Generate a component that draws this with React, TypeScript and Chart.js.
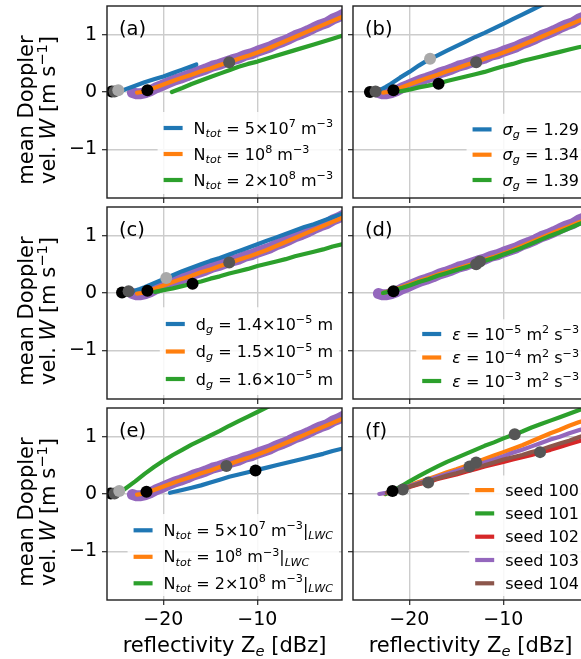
import React, { useEffect, useRef } from "react";
import { Chart, registerables } from "chart.js";

Chart.register(...registerables);

const FONT = '"DejaVu Sans", sans-serif';

const BLUE = "#1f77b4";
const ORANGE = "#ff7f0e";
const GREEN = "#2ca02c";
const RED = "#d62728";
const PURPLE = "#9467bd";
const BROWN = "#8c564b";
const MK_BLACK = "#000000";
const MK_DARK = "#565656";
const MK_LIGHT = "#a9a9a9";

const X_TICKS = [-20, -10];
const Y_TICKS = [-1, 0, 1];
const X_MIN = -26;
const X_MAX = -1;
const Y_MIN = -1.85;
const Y_MAX = 1.5;

type P = [number, number];

// reference run (orange on a thick purple band)
const REF_ORANGE: P[] = [[-22.8, -0.01], [-22.3, 0.0], [-21.7, 0.03], [-21, 0.07], [-20, 0.13], [-19, 0.19], [-18, 0.25], [-17, 0.3], [-16, 0.36], [-15, 0.41], [-14, 0.47], [-13, 0.52], [-12, 0.58], [-11, 0.63], [-10, 0.69], [-9, 0.75], [-8, 0.82], [-7, 0.89], [-6, 0.96], [-5, 1.03], [-4, 1.1], [-3, 1.17], [-2, 1.24], [-1, 1.31]];
const REF_PURPLE: P[] = [[-23.3, -0.01], [-22.9, -0.03], [-22.4, -0.03], [-21.9, -0.01], [-21.4, 0.02], [-20.8, 0.07], [-20.2, 0.11], [-19.5, 0.16], [-18.8, 0.21], [-18.2, 0.24], [-17.5, 0.28], [-16.8, 0.33], [-16.2, 0.36], [-15.5, 0.4], [-14.8, 0.45], [-14.1, 0.48], [-13.4, 0.52], [-12.7, 0.56], [-12.0, 0.59], [-11.3, 0.64], [-10.6, 0.67], [-10.0, 0.71], [-9.3, 0.75], [-8.6, 0.79], [-8.0, 0.84], [-7.3, 0.88], [-6.6, 0.93], [-6.0, 0.98], [-5.3, 1.02], [-4.6, 1.07], [-4.0, 1.12], [-3.3, 1.17], [-2.6, 1.21], [-2.0, 1.27], [-1.4, 1.31], [-0.8, 1.36]];

// (a)
const A_BLUE: P[] = [[-24.6, 0.01], [-24, 0.05], [-23, 0.11], [-22, 0.17], [-21, 0.22], [-20, 0.27], [-19, 0.33], [-18, 0.39], [-17, 0.45], [-16.5, 0.48]];
const A_GREEN: P[] = [[-19.1, 0.0], [-18, 0.07], [-17, 0.14], [-16, 0.2], [-15, 0.26], [-14, 0.32], [-13, 0.38], [-12, 0.44], [-11, 0.49], [-10, 0.53], [-8, 0.63], [-6, 0.73], [-4, 0.83], [-2, 0.93], [-1, 0.98]];
const A_MARKS: P[] = [[-25.5, 0.01], [-25.2, 0.01], [-24.8, 0.03], [-21.7, 0.03], [-13.0, 0.52]];
const A_MARK_COLORS = [MK_BLACK, MK_DARK, MK_LIGHT, MK_BLACK, MK_DARK];

// (b)
const B_BLUE: P[] = [[-23.3, 0.02], [-22.5, 0.09], [-22, 0.14], [-21, 0.25], [-20, 0.35], [-19, 0.46], [-18, 0.56], [-17, 0.64], [-16, 0.72], [-15, 0.8], [-14, 0.88], [-13, 0.96], [-12, 1.03], [-11, 1.11], [-10, 1.19], [-9, 1.27], [-8, 1.35], [-7, 1.43], [-6, 1.51], [-5, 1.59]];
const B_GREEN: P[] = [[-21, 0.01], [-20, 0.04], [-19, 0.08], [-18, 0.11], [-17, 0.145], [-16, 0.19], [-15, 0.23], [-14, 0.27], [-13, 0.31], [-12, 0.35], [-11, 0.4], [-10, 0.45], [-9, 0.49], [-8, 0.54], [-7, 0.58], [-6, 0.62], [-5, 0.66], [-4, 0.7], [-3, 0.74], [-2, 0.78], [-1, 0.81]];
const B_MARKS: P[] = [[-24.2, 0.0], [-23.6, 0.01], [-21.7, 0.03], [-17.8, 0.58], [-16.9, 0.145], [-12.9, 0.52]];
const B_MARK_COLORS = [MK_BLACK, MK_DARK, MK_BLACK, MK_LIGHT, MK_BLACK, MK_DARK];

// (c)
const C_BLUE: P[] = [[-23.4, 0.02], [-22.5, 0.07], [-22, 0.1], [-21, 0.17], [-20, 0.24], [-19, 0.31], [-18, 0.38], [-17, 0.44], [-16, 0.5], [-15, 0.56], [-14, 0.61], [-13, 0.67], [-12, 0.73], [-11, 0.79], [-10, 0.85], [-9, 0.91], [-8, 0.97], [-7, 1.03], [-6, 1.09], [-5, 1.15], [-4, 1.2], [-3, 1.26], [-2, 1.32], [-1, 1.38]];
const C_GREEN: P[] = [[-20.9, 0.02], [-20, 0.05], [-19, 0.08], [-18, 0.12], [-17, 0.16], [-16, 0.2], [-15, 0.25], [-14, 0.29], [-13, 0.34], [-12, 0.38], [-11, 0.42], [-10, 0.47], [-9, 0.51], [-8, 0.55], [-7, 0.59], [-6, 0.64], [-5, 0.68], [-4, 0.72], [-3, 0.76], [-2, 0.81], [-1, 0.85]];
const C_MARKS: P[] = [[-24.4, 0.01], [-23.7, 0.03], [-19.7, 0.26], [-21.7, 0.04], [-16.9, 0.16], [-13.0, 0.53]];
const C_MARK_COLORS = [MK_BLACK, MK_DARK, MK_LIGHT, MK_BLACK, MK_BLACK, MK_DARK];

// (d)
const D_BLUE: P[] = [[-22.8, 0.0], [-22, 0.035], [-21, 0.085], [-20, 0.14], [-19, 0.2], [-18, 0.25], [-17, 0.31], [-16, 0.36], [-15, 0.41], [-14, 0.46], [-13, 0.51], [-12, 0.57], [-11, 0.62], [-10, 0.68], [-9, 0.74], [-8, 0.8], [-7, 0.87], [-6, 0.94], [-5, 1.01], [-4, 1.08], [-3, 1.14], [-2, 1.21], [-1, 1.27]];
const D_ORANGE: P[] = [[-22.8, 0.0], [-22, 0.04], [-21, 0.09], [-20, 0.15], [-19, 0.21], [-18, 0.26], [-17, 0.32], [-16, 0.37], [-15, 0.42], [-14, 0.47], [-13, 0.52], [-12, 0.58], [-11, 0.63], [-10, 0.69], [-9, 0.75], [-8, 0.82], [-7, 0.89], [-6, 0.96], [-5, 1.03], [-4, 1.1], [-3, 1.16], [-2, 1.23], [-1, 1.29]];
const D_GREEN: P[] = [[-22.8, 0.0], [-22, 0.03], [-21, 0.08], [-20, 0.13], [-19, 0.19], [-18, 0.24], [-17, 0.3], [-16, 0.35], [-15, 0.4], [-14, 0.45], [-13, 0.5], [-12, 0.56], [-11, 0.61], [-10, 0.67], [-9, 0.73], [-8, 0.79], [-7, 0.86], [-6, 0.93], [-5, 1.0], [-4, 1.06], [-3, 1.13], [-2, 1.2], [-1, 1.26]];
const D_MARKS: P[] = [[-21.7, 0.03], [-12.9, 0.5], [-12.5, 0.55]];
const D_MARK_COLORS = [MK_BLACK, MK_DARK, MK_DARK];

// (e)
const E_BLUE: P[] = [[-19.3, 0.02], [-18, 0.07], [-17, 0.11], [-16, 0.15], [-15, 0.2], [-14, 0.25], [-13, 0.3], [-12, 0.34], [-11, 0.38], [-10, 0.42], [-9, 0.46], [-8, 0.5], [-7, 0.54], [-6, 0.58], [-5, 0.62], [-4, 0.66], [-3, 0.7], [-2, 0.75], [-1, 0.79]];
const E_GREEN: P[] = [[-24.6, 0.03], [-24, 0.1], [-23, 0.22], [-22, 0.35], [-21, 0.47], [-20, 0.58], [-19, 0.68], [-18, 0.77], [-17, 0.86], [-16, 0.94], [-15, 1.02], [-14, 1.1], [-13, 1.19], [-12, 1.27], [-11, 1.35], [-10, 1.43], [-9, 1.51], [-8, 1.59]];
const E_MARKS: P[] = [[-25.6, 0.01], [-25.2, 0.01], [-24.7, 0.05], [-21.8, 0.04], [-13.3, 0.49], [-10.2, 0.41]];
const E_MARK_COLORS = [MK_BLACK, MK_DARK, MK_LIGHT, MK_BLACK, MK_DARK, MK_BLACK];

// (f) seeds
const F_SEED100: P[] = [[-22.6, 0.0], [-22, 0.04], [-21, 0.09], [-20, 0.15], [-19, 0.21], [-18, 0.26], [-17, 0.32], [-16, 0.38], [-15, 0.43], [-14, 0.49], [-13, 0.55], [-12, 0.61], [-11, 0.67], [-10, 0.73], [-9, 0.79], [-8, 0.85], [-7, 0.92], [-6, 0.99], [-5, 1.06], [-4, 1.12], [-3, 1.19], [-2, 1.25], [-1, 1.3]];
const F_SEED101: P[] = [[-22.5, 0.0], [-22, 0.04], [-21, 0.12], [-20, 0.22], [-19, 0.31], [-18, 0.4], [-17, 0.48], [-16, 0.56], [-15, 0.63], [-14, 0.7], [-13, 0.77], [-12, 0.84], [-11, 0.9], [-10, 0.97], [-9, 1.03], [-8, 1.09], [-7, 1.16], [-6, 1.22], [-5, 1.28], [-4, 1.34], [-3, 1.4], [-2, 1.46], [-1, 1.52]];
const F_SEED102: P[] = [[-22.2, 0.02], [-21, 0.07], [-20, 0.12], [-19, 0.17], [-18, 0.21], [-17, 0.26], [-16, 0.3], [-15, 0.34], [-14, 0.39], [-13, 0.43], [-12, 0.48], [-11, 0.52], [-10, 0.56], [-9, 0.6], [-8, 0.64], [-7, 0.68], [-6, 0.73], [-5, 0.77], [-4, 0.82], [-3, 0.87], [-2, 0.92], [-1, 0.96]];
const F_SEED103: P[] = [[-23.2, 0.0], [-22.5, 0.02], [-21, 0.08], [-20, 0.14], [-19, 0.19], [-18, 0.24], [-17, 0.3], [-16, 0.35], [-15, 0.4], [-14, 0.45], [-13, 0.5], [-12, 0.55], [-11, 0.6], [-10, 0.66], [-9, 0.72], [-8, 0.77], [-7, 0.83], [-6, 0.89], [-5, 0.95], [-4, 1.0], [-3, 1.06], [-2, 1.11], [-1, 1.16]];
const F_SEED104: P[] = [[-22.4, 0.02], [-21, 0.08], [-20, 0.13], [-19, 0.18], [-18, 0.22], [-17, 0.27], [-16, 0.32], [-15, 0.36], [-14, 0.41], [-13, 0.46], [-12, 0.5], [-11, 0.55], [-10, 0.6], [-9, 0.64], [-8, 0.68], [-7, 0.73], [-6, 0.77], [-5, 0.83], [-4, 0.88], [-3, 0.93], [-2, 0.99], [-1, 1.04]];
const F_MARKS: P[] = [[-20.7, 0.08], [-18.0, 0.2], [-13.6, 0.48], [-12.9, 0.55], [-8.8, 1.04], [-6.1, 0.73], [-21.8, 0.05]];
const F_MARK_COLORS = [MK_DARK, MK_DARK, MK_DARK, MK_DARK, MK_DARK, MK_DARK, MK_BLACK];

// ---------- text helpers ----------
type Seg = { t: string; s?: "sub" | "sup"; i?: boolean };

const NTOT: Seg[] = [{ t: "N" }, { t: "tot", s: "sub", i: true }, { t: " = " }];
const LWC: Seg[] = [{ t: "|" }, { t: "LWC", s: "sub", i: true }];
const M3: Seg[] = [{ t: " m" }, { t: "\u22123", s: "sup" }];

const LEG_A_TEXT: Seg[][] = [
  [...NTOT, { t: "5\u00d710" }, { t: "7", s: "sup" }, ...M3],
  [...NTOT, { t: "10" }, { t: "8", s: "sup" }, ...M3],
  [...NTOT, { t: "2\u00d710" }, { t: "8", s: "sup" }, ...M3],
];
const LEG_B_TEXT: Seg[][] = ["1.29", "1.34", "1.39"].map((v) => [
  { t: "\u03c3", i: true }, { t: "g", s: "sub", i: true }, { t: " = " + v },
]);
const LEG_C_TEXT: Seg[][] = ["1.4", "1.5", "1.6"].map((v) => [
  { t: "d" }, { t: "g", s: "sub", i: true }, { t: " = " + v + "\u00d710" }, { t: "\u22125", s: "sup" }, { t: " m" },
]);
const LEG_D_TEXT: Seg[][] = ["\u22125", "\u22124", "\u22123"].map((v) => [
  { t: "\u03b5", i: true }, { t: " = 10" }, { t: v, s: "sup" }, { t: " m" }, { t: "2", s: "sup" }, { t: " s" }, { t: "\u22123", s: "sup" },
]);
const LEG_E_TEXT: Seg[][] = LEG_A_TEXT.map((segs) => [...segs, ...LWC]);
const LEG_F_TEXT: Seg[][] = ["seed 100", "seed 101", "seed 102", "seed 103", "seed 104"].map((v) => [{ t: v }]);

const Y_LABEL_1: Seg[] = [{ t: "mean Doppler" }];
const Y_LABEL_2: Seg[] = [{ t: "vel. " }, { t: "W", i: true }, { t: " [m s" }, { t: "\u22121", s: "sup" }, { t: "]" }];
const X_LABEL: Seg[] = [{ t: "reflectivity Z" }, { t: "e", s: "sub", i: true }, { t: " [dBz]" }];

function setFont(ctx: CanvasRenderingContext2D, g: Seg, size: number) {
  const fs = g.s ? size * 0.7 : size;
  ctx.font = `${g.i ? "italic " : ""}${fs}px ${FONT}`;
}
function richWidth(ctx: CanvasRenderingContext2D, segs: Seg[], size: number) {
  let w = 0;
  for (const g of segs) {
    setFont(ctx, g, size);
    w += ctx.measureText(g.t).width;
  }
  return w;
}
function drawRich(ctx: CanvasRenderingContext2D, segs: Seg[], x: number, y: number, size: number) {
  let cx = x;
  ctx.textAlign = "left";
  ctx.textBaseline = "alphabetic";
  for (const g of segs) {
    setFont(ctx, g, size);
    const dy = g.s === "sub" ? size * 0.2 : g.s === "sup" ? -size * 0.4 : 0;
    ctx.fillText(g.t, cx, y + dy);
    cx += ctx.measureText(g.t).width;
  }
}

// ---------- panels ----------
type Series = { pts: P[]; color: string; width: number };
type PanelSpec = {
  label: string;
  col: number;
  row: number;
  series: Series[];
  marks: P[];
  markColors: string[];
  legendColors: string[];
  legendText: Seg[][];
  legendGap: number;
  legendLast: number;
};

const W_LINE = 4.2;
const W_BAND = 11;

const PANELS: PanelSpec[] = [
  {
    label: "(a)", col: 0, row: 0,
    series: [
      { pts: REF_PURPLE, color: PURPLE, width: W_BAND },
      { pts: A_BLUE, color: BLUE, width: W_LINE },
      { pts: REF_ORANGE, color: ORANGE, width: W_LINE },
      { pts: A_GREEN, color: GREEN, width: W_LINE },
    ],
    marks: A_MARKS, markColors: A_MARK_COLORS,
    legendColors: [BLUE, ORANGE, GREEN], legendText: LEG_A_TEXT, legendGap: 26, legendLast: 18,
  },
  {
    label: "(b)", col: 1, row: 0,
    series: [
      { pts: REF_PURPLE, color: PURPLE, width: W_BAND },
      { pts: B_BLUE, color: BLUE, width: W_LINE },
      { pts: REF_ORANGE, color: ORANGE, width: W_LINE },
      { pts: B_GREEN, color: GREEN, width: W_LINE },
    ],
    marks: B_MARKS, markColors: B_MARK_COLORS,
    legendColors: [BLUE, ORANGE, GREEN], legendText: LEG_B_TEXT, legendGap: 25.3, legendLast: 18,
  },
  {
    label: "(c)", col: 0, row: 1,
    series: [
      { pts: REF_PURPLE, color: PURPLE, width: W_BAND },
      { pts: C_BLUE, color: BLUE, width: W_LINE },
      { pts: REF_ORANGE, color: ORANGE, width: W_LINE },
      { pts: C_GREEN, color: GREEN, width: W_LINE },
    ],
    marks: C_MARKS, markColors: C_MARK_COLORS,
    legendColors: [BLUE, ORANGE, GREEN], legendText: LEG_C_TEXT, legendGap: 27.5, legendLast: 20,
  },
  {
    label: "(d)", col: 1, row: 1,
    series: [
      { pts: REF_PURPLE, color: PURPLE, width: W_BAND },
      { pts: D_BLUE, color: BLUE, width: W_LINE },
      { pts: D_ORANGE, color: ORANGE, width: W_LINE },
      { pts: D_GREEN, color: GREEN, width: W_LINE },
    ],
    marks: D_MARKS, markColors: D_MARK_COLORS,
    legendColors: [BLUE, ORANGE, GREEN], legendText: LEG_D_TEXT, legendGap: 23.5, legendLast: 18,
  },
  {
    label: "(e)", col: 0, row: 2,
    series: [
      { pts: REF_PURPLE, color: PURPLE, width: W_BAND },
      { pts: E_BLUE, color: BLUE, width: W_LINE },
      { pts: REF_ORANGE, color: ORANGE, width: W_LINE },
      { pts: E_GREEN, color: GREEN, width: W_LINE },
    ],
    marks: E_MARKS, markColors: E_MARK_COLORS,
    legendColors: [BLUE, ORANGE, GREEN], legendText: LEG_E_TEXT, legendGap: 26.5, legendLast: 16.7,
  },
  {
    label: "(f)", col: 1, row: 2,
    series: [
      { pts: F_SEED100, color: ORANGE, width: W_LINE },
      { pts: F_SEED101, color: GREEN, width: W_LINE },
      { pts: F_SEED102, color: RED, width: W_LINE },
      { pts: F_SEED103, color: PURPLE, width: W_LINE },
      { pts: F_SEED104, color: BROWN, width: W_LINE },
    ],
    marks: F_MARKS, markColors: F_MARK_COLORS,
    legendColors: [ORANGE, GREEN, RED, PURPLE, BROWN], legendText: LEG_F_TEXT, legendGap: 23.3, legendLast: 16.7,
  },
];

// figure geometry (page pixels)
const COLS = [
  { cx: 0, cw: 346, left: 107, right: 342 },
  { cx: 346, cw: 246, left: 353, right: 588 },
];
const ROWS = [
  { cy: 0, ch: 203, top: 6, bottom: 198 },
  { cy: 203, ch: 201, top: 207, bottom: 399 },
  { cy: 404, ch: 255, top: 408, bottom: 600 },
];

const fmtTick = (v: number | string) => {
  const n = Number(v);
  return n < 0 ? "\u2212" + Math.abs(n) : String(n);
};

function makeDecor(spec: PanelSpec) {
  return {
    id: "decor" + spec.label,
    afterDatasetsDraw(chart: any) {
      const ctx: CanvasRenderingContext2D = chart.ctx;
      const a = chart.chartArea;
      ctx.save();
      // frame
      ctx.strokeStyle = "#1e1e1e";
      ctx.lineWidth = 1.4;
      ctx.strokeRect(a.left, a.top, a.right - a.left, a.bottom - a.top);

      // legend
      const LFS = 16;
      const widths = spec.legendText.map((s) => richWidth(ctx, s, LFS));
      const maxW = Math.max(...widths);
      const textLeft = a.right - 9 - maxW;
      const swL = textLeft - 30;
      const swR = textLeft - 11;
      const n = spec.legendText.length;
      const lastY = a.bottom - spec.legendLast;
      const firstY = lastY - (n - 1) * spec.legendGap;
      const boxTop = firstY - spec.legendGap / 2 - 3;
      ctx.fillStyle = "rgba(255,255,255,0.85)";
      ctx.fillRect(swL - 6, boxTop, a.right - 3 - (swL - 6), a.bottom - 4 - boxTop);
      spec.legendText.forEach((segs, k) => {
        const y = firstY + k * spec.legendGap;
        ctx.strokeStyle = spec.legendColors[k];
        ctx.lineWidth = 4.2;
        ctx.lineCap = "butt";
        ctx.beginPath();
        ctx.moveTo(swL, y);
        ctx.lineTo(swR, y);
        ctx.stroke();
        ctx.fillStyle = "#000";
        drawRich(ctx, segs, textLeft, y + 5.5, LFS);
      });

      // panel label
      ctx.fillStyle = "#000";
      ctx.font = `19.5px ${FONT}`;
      ctx.textAlign = "left";
      ctx.textBaseline = "alphabetic";
      ctx.fillText(spec.label, a.left + 12, a.top + 29);

      // y label (left column)
      const AFS = 21;
      if (spec.col === 0) {
        const cyMid = (a.top + a.bottom) / 2 + 8;
        const lines: [Seg[], number][] = [[Y_LABEL_1, 33], [Y_LABEL_2, 55]];
        for (const [segs, bx] of lines) {
          const w = richWidth(ctx, segs, AFS);
          ctx.save();
          ctx.translate(bx, cyMid);
          ctx.rotate(-Math.PI / 2);
          drawRich(ctx, segs, -w / 2, 0, AFS);
          ctx.restore();
        }
      }
      // x label (bottom row)
      if (spec.row === 2) {
        const w = richWidth(ctx, X_LABEL, AFS);
        drawRich(ctx, X_LABEL, (a.left + a.right) / 2 - w / 2, 652 - 404, AFS);
      }
      ctx.restore();
    },
  };
}

function buildConfig(spec: PanelSpec): any {
  const col = COLS[spec.col];
  const row = ROWS[spec.row];
  const yAxisW = col.left - col.cx;
  const xAxisH = row.cy + row.ch - row.bottom;
  const zeroPad = (s: any) => {
    s.paddingTop = 0;
    s.paddingBottom = 0;
    s.paddingLeft = 0;
    s.paddingRight = 0;
  };
  const n = spec.series.length;
  const datasets: any[] = spec.series.map((s, i) => ({
    type: "line",
    data: s.pts.map(([x, y]) => ({ x, y })),
    borderColor: s.color,
    borderWidth: s.width,
    pointRadius: 0,
    tension: 0,
    fill: false,
    clip: 0,
    borderJoinStyle: "round",
    borderCapStyle: "round",
    order: n + 5 - i,
  }));
  datasets.push({
    type: "line",
    data: spec.marks.map(([x, y]) => ({ x, y })),
    showLine: false,
    pointRadius: 6,
    pointBackgroundColor: spec.markColors,
    pointBorderColor: spec.markColors,
    pointBorderWidth: 0,
    clip: 0,
    order: 0,
  });
  const grid = {
    color: "#cccccc",
    lineWidth: 1.4,
    drawTicks: true,
    tickLength: 5,
    tickColor: "#262626",
    tickWidth: 1.2,
  };
  return {
    type: "line",
    data: { datasets },
    options: {
      animation: false,
      responsive: false,
      devicePixelRatio: 1,
      events: [],
      layout: {
        autoPadding: false,
        padding: { left: 0, right: col.cx + col.cw - col.right, top: row.top - row.cy, bottom: 0 },
      },
      plugins: { legend: { display: false }, tooltip: { enabled: false }, title: { display: false } },
      scales: {
        x: {
          type: "linear",
          min: X_MIN,
          max: X_MAX,
          afterBuildTicks: (s: any) => { s.ticks = X_TICKS.map((v) => ({ value: v })); },
          afterFit: (s: any) => { s.height = xAxisH; zeroPad(s); },
          grid,
          border: { display: false },
          ticks: {
            display: spec.row === 2,
            font: { family: FONT, size: 19 },
            color: "#000",
            padding: 4,
            maxRotation: 0,
            autoSkip: false,
            callback: fmtTick,
          },
        },
        y: {
          type: "linear",
          min: Y_MIN,
          max: Y_MAX,
          afterBuildTicks: (s: any) => { s.ticks = Y_TICKS.map((v) => ({ value: v })); },
          afterFit: (s: any) => { s.width = yAxisW; zeroPad(s); },
          grid,
          border: { display: false },
          ticks: {
            display: spec.col === 0,
            font: { family: FONT, size: 19 },
            color: "#000",
            padding: 5,
            autoSkip: false,
            callback: fmtTick,
          },
        },
      },
    },
    plugins: [makeDecor(spec)],
  };
}

function Panel({ spec }: { spec: PanelSpec }) {
  const ref = useRef<HTMLCanvasElement>(null);
  const col = COLS[spec.col];
  const row = ROWS[spec.row];
  useEffect(() => {
    const chart = new Chart(ref.current as HTMLCanvasElement, buildConfig(spec));
    return () => chart.destroy();
  }, [spec]);
  return (
    <canvas
      ref={ref}
      width={col.cw}
      height={row.ch}
      style={{ position: "absolute", left: col.cx, top: row.cy, width: col.cw, height: row.ch }}
    />
  );
}

export default function App() {
  return (
    <div
      style={{
        position: "absolute",
        left: 0,
        top: 0,
        width: 581,
        height: 659,
        overflow: "hidden",
        background: "#ffffff",
      }}
    >
      {PANELS.map((p) => (
        <Panel key={p.label} spec={p} />
      ))}
    </div>
  );
}
